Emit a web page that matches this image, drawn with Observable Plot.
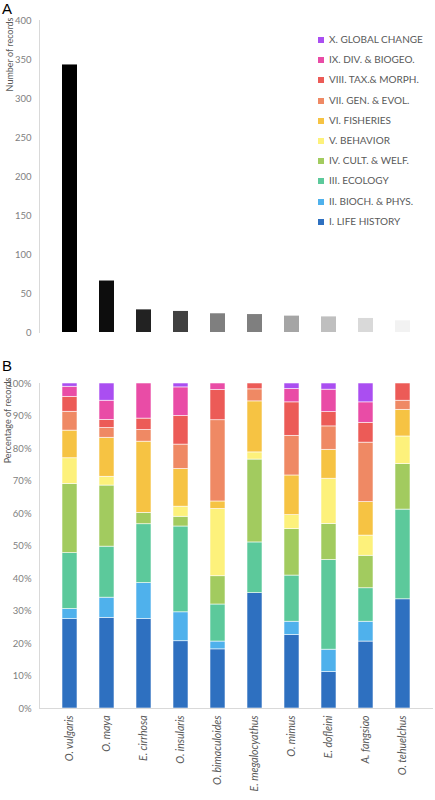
<!DOCTYPE html>
<html>
<head>
<meta charset="utf-8">
<script src="https://cdn.jsdelivr.net/npm/d3@7"></script>
<script src="https://cdn.jsdelivr.net/npm/@observablehq/plot@0.6"></script>
<style>
  body { margin: 0; background: white; font-family: Lato, sans-serif; }
  .panel { position: relative; width: 435px; }
  .tag { position: absolute; left: 2px; font-family: "Liberation Sans", Arial, sans-serif; font-size: 15px; color: #000; line-height: 15px; }
  .legend { position: absolute; left: 318px; top: 29px; font-size: 10px; color: #595959; }
  .legend div { height: 20.2px; line-height: 20.2px; white-space: nowrap; }
  .legend span { display: inline-block; width: 6px; height: 6px; margin-right: 5px; vertical-align: 0px; }
</style>
</head>
<body>
<div id="chart"></div>
<script>
const species = ["O. vulgaris", "O. maya", "E. cirrhosa", "O. insularis", "O. bimaculoides",
  "E. megalocyathus", "O. mimus", "E. dofleini", "A. fangsiao", "O. tehuelchus"];
const records = [343, 66, 29, 27, 24, 23, 21, 20, 18, 15];

const topics = ["I. LIFE HISTORY", "II. BIOCH. & PHYS.", "III. ECOLOGY", "IV. CULT. & WELF.",
  "V. BEHAVIOR", "VI. FISHERIES", "VII. GEN. & EVOL.", "VIII. TAX.& MORPH.",
  "IX. DIV. & BIOGEO.", "X. GLOBAL CHANGE"];

// percentage of records per topic, one value per species (same order as species)
const lifeHistory = [27.5, 27.9, 27.5, 20.7, 18.2, 35.5, 22.6, 11.2, 20.6, 33.6];
const biochPhys   = [3.1, 6.2, 11.1, 8.9, 2.4, 0, 4.1, 6.9, 6.1, 0];
const ecology     = [17.2, 15.7, 18.1, 26.4, 11.4, 15.6, 14.2, 27.6, 10.3, 27.6];
const cultWelf    = [21.3, 18.8, 3.5, 3.0, 8.7, 25.5, 14.3, 11.1, 10.0, 14.0];
const behavior    = [7.9, 2.7, 0, 3.1, 20.7, 2.2, 4.3, 13.9, 6.2, 8.5];
const fisheries   = [8.5, 12.0, 21.9, 11.6, 2.3, 15.7, 12.2, 8.9, 10.3, 8.2];
const genEvol     = [5.8, 3.0, 3.6, 7.5, 25.0, 3.7, 12.2, 7.2, 18.3, 2.8];
const taxMorph    = [4.6, 2.5, 3.5, 8.8, 9.3, 1.8, 10.3, 4.4, 6.1, 5.3];
const divBiogeo   = [3.1, 5.9, 10.8, 8.8, 2.0, 0, 4.1, 6.9, 6.3, 0];
const globalChange = [1.0, 5.3, 0, 1.2, 0, 0, 1.7, 1.9, 5.8, 0];

const greys = ["#000000", "#0d0d0d", "#222222", "#404040", "#7f7f7f", "#7f7f7f",
  "#a5a5a5", "#bfbfbf", "#d9d9d9", "#f2f2f2"];
const topicColors = ["#2e70c0", "#4fb1ec", "#5cc99b", "#a2cb5f", "#fdf17b",
  "#f6c343", "#ef8964", "#ec5b57", "#e94ca6", "#aa4ef1"];

const seriesByTopic = [lifeHistory, biochPhys, ecology, cultWelf, behavior,
  fisheries, genEvol, taxMorph, divBiogeo, globalChange];

const totals = species.map((s, i) => ({species: s, n: records[i]}));
const shares = species.flatMap((s, i) =>
  topics.map((t, j) => ({species: s, topic: t, pct: seriesByTopic[j][i]})))
  .filter(d => d.pct > 0);

// currentColor = axis line colour; tick labels get their own fill below
const axisStyle = {fontFamily: "Lato, sans-serif", fontSize: "9.5px", color: "#d9d9d9", background: "white", overflow: "visible"};

// panel A
let chartA = Plot.plot({
  width: 435,
  height: 340,
  marginLeft: 39,
  marginRight: 2,
  marginTop: 20,
  marginBottom: 8,
  style: axisStyle,
  x: {domain: species, padding: 0.59, axis: null},
  y: {domain: [0, 400], ticks: d3.range(0, 401, 50), tickSize: 0, tickPadding: 8, label: null, line: true},
  color: {type: "ordinal", domain: species, range: greys},
  marks: [
    Plot.barY(totals, {x: "species", y: "n", fill: "species"}),
    Plot.text(["Number of records"], {frameAnchor: "top-left", text: d => d, rotate: -90,
      textAnchor: "end", dx: -33, dy: -3, fontSize: 9, fill: "#595959"})
  ]
});

// panel B
let chartB = Plot.plot({
  width: 435,
  height: 460,
  marginLeft: 39,
  marginRight: 2,
  marginTop: 43,
  marginBottom: 92,
  style: axisStyle,
  x: {domain: species, padding: 0.59, label: null, tickSize: 0, tickPadding: 7, tickRotate: -90},
  y: {domain: [0, 1], ticks: d3.range(0, 1.01, 0.1), tickFormat: ".0%", tickSize: 0, tickPadding: 8, label: null, line: true},
  color: {domain: topics, range: topicColors},
  marks: [
    Plot.barY(shares, {x: "species", y: "pct", fill: "topic", offset: "normalize",
      stroke: "white", strokeWidth: 0.7, strokeOpacity: 0.8}),
    Plot.ruleY([0], {stroke: "#d9d9d9"}),
    Plot.text(["Percentage of records"], {frameAnchor: "top-left", text: d => d, rotate: -90,
      textAnchor: "end", dx: -35, dy: -6, fontSize: 9, fill: "#595959"})
  ]
});

for (const c of [chartA, chartB]) {
  d3.select(c).selectAll("[aria-label='y-axis tick label']").attr("fill", "#808080");
}
d3.select(chartB).selectAll("[aria-label='x-axis tick label']")
  .attr("fill", "#595959").style("font-style", "italic").style("font-size", "10.5px");

const panelA = d3.select("#chart").append("div").attr("class", "panel");
panelA.append(() => chartA);
panelA.append("div").attr("class", "tag").style("top", "1px").text("A");
const legend = panelA.append("div").attr("class", "legend");
topics.slice().reverse().forEach(t => {
  const row = legend.append("div");
  row.append("span").style("background", topicColors[topics.indexOf(t)]);
  row.append("text").text(t);
});

const panelB = d3.select("#chart").append("div").attr("class", "panel");
panelB.append(() => chartB);
panelB.append("div").attr("class", "tag").style("top", "18px").text("B");
</script>
</body>
</html>
